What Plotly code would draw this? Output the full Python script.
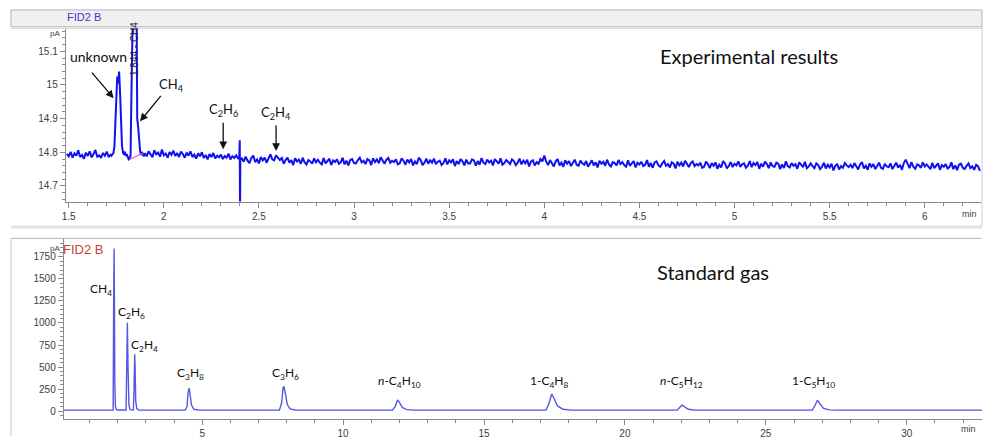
import numpy as np
import plotly.graph_objects as go

W, H = 985, 439

# ---------------- Experimental results (top chromatogram, pA vs min) ----------------
exp_seg1_start = 1.49          # 0.01 min sampling
exp_seg1_signal = [14.795, 14.788, 14.801, 14.784, 14.797, 14.790, 14.806, 14.786, 14.792, 14.781,
                   14.799, 14.789, 14.803, 14.785, 14.794, 14.807, 14.787, 14.791, 14.783, 14.798,
                   14.790, 14.802, 14.786, 14.793]

exp_peak_time = [1.725, 1.730, 1.735, 1.740, 1.745, 1.750, 1.755, 1.760, 1.765, 1.770,
                 1.775, 1.780, 1.785, 1.790, 1.795, 1.800, 1.805, 1.810, 1.815, 1.820,
                 1.825, 1.829, 1.833, 1.840, 1.845, 1.850, 1.856, 1.860, 1.865, 1.870,
                 1.875, 1.880, 1.885, 1.890, 1.895]
exp_peak_signal = [14.790, 14.796, 14.798, 14.815, 14.880, 14.955, 15.025, 15.005, 15.040, 14.975,
                   14.880, 14.820, 14.800, 14.793, 14.802, 14.789, 14.795, 14.784, 14.779, 14.781,
                   14.790, 14.950, 15.300, 15.450, 15.500, 15.450, 15.300, 14.900, 14.875, 14.830,
                   14.805, 14.792, 14.801, 14.794, 14.788]

exp_seg2_start = 1.90
exp_seg2_signal = [14.797, 14.788, 14.803, 14.792, 14.785, 14.806, 14.794, 14.799, 14.787, 14.808,
                   14.791, 14.796, 14.784, 14.801, 14.793, 14.805, 14.789, 14.798, 14.786, 14.802,
                   14.795, 14.784, 14.799, 14.790, 14.803, 14.786, 14.793, 14.781, 14.797, 14.788,
                   14.800, 14.783, 14.792, 14.779, 14.795, 14.786, 14.798, 14.782, 14.790, 14.785,
                   14.793, 14.780, 14.789, 14.784, 14.796, 14.779, 14.788, 14.783, 14.791, 14.782]

exp_spike_time = [2.396, 2.399, 2.4005, 2.402, 2.405]
exp_spike_signal = [14.781, 14.836, 14.600, 14.776, 14.779]

exp_seg3_start = 2.41
exp_seg3_signal = [
    14.782, 14.772, 14.787, 14.775, 14.768, 14.783, 14.790, 14.771, 14.779, 14.767,
    14.786, 14.776, 14.784, 14.769, 14.781, 14.794, 14.779, 14.776, 14.791, 14.785,
    14.777, 14.783, 14.766, 14.777, 14.784, 14.769, 14.777, 14.762, 14.782, 14.773,
    14.778, 14.766, 14.784, 14.770, 14.764, 14.777, 14.773, 14.766, 14.782, 14.770,
    14.778, 14.769, 14.764, 14.783, 14.767, 14.774, 14.781, 14.762, 14.776, 14.771,
    14.779, 14.766, 14.770, 14.784, 14.764, 14.775, 14.761, 14.777, 14.780, 14.768,
    14.767, 14.777, 14.784, 14.770, 14.775, 14.765, 14.780, 14.776, 14.762, 14.782,
    14.771, 14.779, 14.768, 14.785, 14.773, 14.766, 14.778, 14.783, 14.769, 14.775,
    14.771, 14.779, 14.764, 14.767, 14.782, 14.775, 14.763, 14.778, 14.770, 14.780,
    14.761, 14.773, 14.765, 14.784, 14.777, 14.762, 14.769, 14.781, 14.766, 14.776,
    14.769, 14.781, 14.765, 14.772, 14.775, 14.762, 14.768, 14.782, 14.764, 14.776,
    14.770, 14.779, 14.759, 14.774, 14.765, 14.780, 14.773, 14.761, 14.778, 14.767,
    14.767, 14.779, 14.776, 14.760, 14.774, 14.763, 14.783, 14.769, 14.765, 14.778,
    14.770, 14.775, 14.761, 14.780, 14.773, 14.766, 14.782, 14.763, 14.768, 14.777,
    14.771, 14.765, 14.779, 14.774, 14.762, 14.769, 14.781, 14.764, 14.775, 14.767,
    14.778, 14.758, 14.772, 14.776, 14.761, 14.771, 14.766, 14.780, 14.773, 14.790,
    14.772, 14.762, 14.777, 14.765, 14.758, 14.773, 14.780, 14.761, 14.769, 14.757,
    14.776, 14.766, 14.774, 14.759, 14.771, 14.778, 14.763, 14.760, 14.775, 14.767,
    14.763, 14.774, 14.757, 14.769, 14.776, 14.761, 14.770, 14.755, 14.775, 14.766,
    14.772, 14.760, 14.778, 14.764, 14.758, 14.771, 14.768, 14.761, 14.777, 14.765,
    14.771, 14.762, 14.757, 14.776, 14.760, 14.767, 14.774, 14.755, 14.769, 14.764,
    14.772, 14.759, 14.763, 14.777, 14.757, 14.768, 14.754, 14.770, 14.773, 14.761,
    14.757, 14.767, 14.774, 14.760, 14.765, 14.755, 14.770, 14.766, 14.752, 14.772,
    14.761, 14.769, 14.758, 14.775, 14.763, 14.756, 14.768, 14.773, 14.759, 14.765,
    14.761, 14.769, 14.754, 14.757, 14.772, 14.765, 14.753, 14.768, 14.760, 14.770,
    14.751, 14.763, 14.755, 14.774, 14.767, 14.752, 14.759, 14.771, 14.756, 14.766,
    14.761, 14.773, 14.757, 14.764, 14.767, 14.754, 14.760, 14.774, 14.756, 14.768,
    14.762, 14.771, 14.751, 14.766, 14.757, 14.772, 14.765, 14.753, 14.770, 14.759,
    14.757, 14.769, 14.766, 14.750, 14.764, 14.753, 14.773, 14.759, 14.755, 14.768,
    14.760, 14.765, 14.751, 14.770, 14.763, 14.756, 14.772, 14.753, 14.758, 14.767,
    14.759, 14.753, 14.767, 14.762, 14.750, 14.757, 14.769, 14.752, 14.763, 14.755,
    14.766, 14.746, 14.760, 14.764, 14.749, 14.759, 14.754, 14.768, 14.761, 14.756,
    14.763, 14.753, 14.768, 14.756, 14.749, 14.764, 14.771, 14.752, 14.760, 14.748,
    14.767, 14.757, 14.765, 14.750, 14.762, 14.769, 14.754, 14.751, 14.766, 14.758,
    14.756, 14.767, 14.750, 14.762, 14.769, 14.754, 14.763, 14.748, 14.768, 14.778,
    14.765, 14.753, 14.771, 14.757, 14.751, 14.764, 14.761, 14.754, 14.770, 14.758,
    14.764, 14.755, 14.750, 14.769, 14.753, 14.760, 14.767, 14.748, 14.762, 14.757,
    14.765, 14.752, 14.756, 14.770, 14.750, 14.761, 14.747, 14.763, 14.766, 14.754,
    14.750, 14.760, 14.767, 14.753, 14.758, 14.748, 14.763, 14.759, 14.745]

# integration baseline drawn under the CH4 peak
exp_baseline_time = [1.820, 1.890]
exp_baseline_signal = [14.779, 14.797]

exp_xticks = [1.5, 2, 2.5, 3, 3.5, 4, 4.5, 5, 5.5, 6]
exp_xticktext = ["1.5", "2", "2.5", "3", "3.5", "4", "4.5", "5", "5.5", "6"]
exp_yticks = [14.7, 14.8, 14.9, 15.0, 15.1]
exp_yticktext = ["14.7", "14.8", "14.9", "15", "15.1"]

# top annotations
exp_labels = ["unknown", "CH<sub>4</sub>", "C<sub>2</sub>H<sub>6</sub>", "C<sub>2</sub>H<sub>4</sub>"]
exp_label_x = [1.657, 2.040, 2.312, 2.590]
exp_label_y = [15.085, 15.000, 14.925, 14.918]
exp_arrow_x = [1.736, 1.875, 2.312, 2.590]
exp_arrow_y = [14.961, 14.892, 14.809, 14.804]
exp_arrow_dx = [-23, 22, 0, 0]
exp_arrow_dy = [-27, -27, -28, -27]

# ---------------- Standard gas (bottom chromatogram) ----------------
std_time = [0.09, 1.84, 1.86, 1.875, 1.885, 1.90, 1.92, 1.95, 2.00,
            2.30, 2.33, 2.345, 2.365, 2.38, 2.40, 2.44, 2.50,
            2.56, 2.585, 2.605, 2.62, 2.64, 2.68, 2.75,
            4.40, 4.46, 4.50, 4.54, 4.58, 4.62, 4.70, 4.85,
            7.74, 7.82, 7.87, 7.90, 7.95, 8.02, 8.12, 8.30,
            11.75, 11.85, 11.93, 12.00, 12.10, 12.25, 12.50,
            17.20, 17.30, 17.40, 17.48, 17.60, 17.80, 18.10,
            21.85, 21.95, 22.03, 22.12, 22.25, 22.50,
            26.65, 26.75, 26.83, 26.92, 27.05, 27.25, 27.50,
            32.70]
std_signal = [12, 12, 1330, 1845, 1330, 310, 60, 20, 13,
              13, 560, 1002, 560, 300, 70, 18, 13,
              13, 300, 645, 500, 120, 30, 13,
              12, 50, 215, 262, 190, 70, 22, 13,
              12, 95, 265, 281, 205, 75, 25, 13,
              12, 55, 127, 100, 42, 18, 12,
              12, 80, 195, 150, 62, 22, 12,
              12, 45, 71, 48, 22, 12,
              12, 70, 124, 82, 32, 15, 12,
              12]

std_xticks = [5, 10, 15, 20, 25, 30]
std_yticks = [0, 250, 500, 750, 1000, 1250, 1500, 1750]

std_labels = ["CH<sub>4</sub>", "C<sub>2</sub>H<sub>6</sub>", "C<sub>2</sub>H<sub>4</sub>",
              "C<sub>3</sub>H<sub>8</sub>", "C<sub>3</sub>H<sub>6</sub>",
              "<i>n</i>-C<sub>4</sub>H<sub>10</sub>", "1-C<sub>4</sub>H<sub>8</sub>",
              "<i>n</i>-C<sub>5</sub>H<sub>12</sub>", "1-C<sub>5</sub>H<sub>10</sub>"]
std_label_x = [1.40, 2.50, 2.96, 4.60, 7.95, 12.00, 17.30, 22.00, 26.70]
std_label_y = [1385, 1120, 750, 425, 425, 335, 335, 335, 335]

# ---------------- helpers ----------------
def seg_time(start, values):
    return list(np.round(start + 0.01 * np.arange(len(values)), 3))

exp_time = (seg_time(exp_seg1_start, exp_seg1_signal) + exp_peak_time +
            seg_time(exp_seg2_start, exp_seg2_signal) + exp_spike_time +
            seg_time(exp_seg3_start, exp_seg3_signal))
exp_signal = (exp_seg1_signal + exp_peak_signal + exp_seg2_signal +
              exp_spike_signal + exp_seg3_signal)

def px(x):
    return x / W

def py(y):
    return 1 - y / H

TICKFONT = dict(family="Liberation Sans, Arial, sans-serif", size=10, color="#404040")
LBLFONT = "Lato, Open Sans, sans-serif"
AXCOL = "#8a8a8a"

fig = go.Figure()

fig.add_trace(go.Scatter(x=exp_time, y=exp_signal, mode="lines",
                         line=dict(color="#1010f0", width=2.0),
                         xaxis="x", yaxis="y", showlegend=False, hoverinfo="skip"))
fig.add_trace(go.Scatter(x=exp_baseline_time, y=exp_baseline_signal, mode="lines",
                         line=dict(color="#ff55cc", width=1.2),
                         xaxis="x", yaxis="y", showlegend=False, hoverinfo="skip"))
fig.add_trace(go.Scatter(x=std_time, y=std_signal, mode="lines",
                         line=dict(color="#5656e0", width=1.4),
                         xaxis="x2", yaxis="y2", showlegend=False, hoverinfo="skip"))

common_axis = dict(showgrid=False, zeroline=False, showline=True, linecolor=AXCOL,
                   linewidth=1, ticks="outside", tickcolor=AXCOL, ticklen=5,
                   tickfont=TICKFONT, fixedrange=True)

fig.update_layout(
    width=W, height=H,
    margin=dict(l=0, r=0, t=0, b=0),
    paper_bgcolor="white", plot_bgcolor="white",
    xaxis=dict(domain=[px(62), px(981)], range=[1.4843, 6.2958], anchor="y",
               tickvals=exp_xticks, ticktext=exp_xticktext,
               minor=dict(dtick=0.1, tick0=1.5, ticklen=3, tickcolor=AXCOL, ticks="outside"),
               **common_axis),
    yaxis=dict(domain=[py(203), py(28)], range=[14.6534, 15.170], anchor="x",
               tickvals=exp_yticks, ticktext=exp_yticktext,
               minor=dict(dtick=0.02, tick0=14.7, ticklen=3, tickcolor=AXCOL, ticks="outside"),
               **common_axis),
    xaxis2=dict(domain=[px(60), px(982)], range=[0.088, 32.67], anchor="y2",
                tickvals=std_xticks,
                minor=dict(dtick=1, tick0=0, ticklen=3, tickcolor=AXCOL, ticks="outside"),
                **common_axis),
    yaxis2=dict(domain=[py(422), py(241)], range=[-90, 1948], anchor="x2",
                tickvals=std_yticks,
                minor=dict(dtick=50, tick0=0, ticklen=3, tickcolor=AXCOL, ticks="outside"),
                **common_axis),
)

shapes = [
    dict(type="rect", xref="paper", yref="paper", x0=px(7), x1=px(982), y0=py(27), y1=py(10),
         fillcolor="#f0f0f0", line=dict(color="#b4b4b4", width=1), layer="below"),
    dict(type="line", xref="paper", yref="paper", x0=px(7), x1=px(982), y0=py(28.5), y1=py(28.5),
         line=dict(color="#d4d4d4", width=1)),
    dict(type="line", xref="paper", yref="paper", x0=px(982), x1=px(982), y0=py(228), y1=py(27),
         line=dict(color="#d0d0d0", width=1)),
    dict(type="rect", xref="paper", yref="paper", x0=px(7), x1=px(982), y0=py(230), y1=py(227),
         fillcolor="#e2e2e2", line=dict(width=0), layer="below"),
    dict(type="line", xref="paper", yref="paper", x0=px(7), x1=px(982), y0=py(240), y1=py(240),
         line=dict(color="#b4b4b4", width=1)),
    dict(type="line", xref="paper", yref="paper", x0=px(7), x1=px(7), y0=py(439), y1=py(240),
         line=dict(color="#c4c4c4", width=1)),
]
fig.update_layout(shapes=shapes)

def note(text, x, y, size, color, family="Liberation Sans, Arial", xref="paper", yref="paper",
         angle=0):
    return dict(text=text, xref=xref, yref=yref, x=x, y=y, showarrow=False,
                xanchor="center", yanchor="middle", textangle=angle,
                font=dict(family=family, size=size, color=color))

ann = []
ann.append(note("FID2 B", px(80), py(17), 11, "#3a3ad0"))
ann.append(note("FID2 B", px(79), py(251), 13, "#d03a3a"))
for xx, yy in [(51, 34), (51, 250)]:
    ann.append(note("pA", px(xx), py(yy), 8, "#404040"))
for xx, yy in [(969, 215), (968, 432)]:
    ann.append(note("min", px(xx), py(yy), 9, "#404040"))
ann.append(note("Experimental results", px(748), py(56), 20, "#111111", family=LBLFONT))
ann.append(note("Standard gas", px(712), py(274), 20, "#111111", family=LBLFONT))
ann.append(note("1.844 - CH4", 1.845, py(49), 10, "#222222", xref="x", angle=-90))

for t, lx, ly in zip(exp_labels, exp_label_x, exp_label_y):
    ann.append(note(t, lx, ly, 14 if t == "unknown" else 13, "#111111", family=LBLFONT,
                    xref="x", yref="y"))
for axx, ayy, dx, dy in zip(exp_arrow_x, exp_arrow_y, exp_arrow_dx, exp_arrow_dy):
    ann.append(dict(text="", xref="x", yref="y", x=axx, y=ayy, ax=dx, ay=dy,
                    showarrow=True, arrowhead=2, arrowsize=1.2, arrowwidth=1.3,
                    arrowcolor="#111111"))

for t, lx, ly in zip(std_labels, std_label_x, std_label_y):
    ann.append(note(t, lx, ly, 12, "#111111", family=LBLFONT, xref="x2", yref="y2"))

fig.update_layout(annotations=ann)

fig.write_html("out.html", config={"displayModeBar": False},
               post_script="document.body.style.margin='0';document.body.style.overflow='hidden';")
